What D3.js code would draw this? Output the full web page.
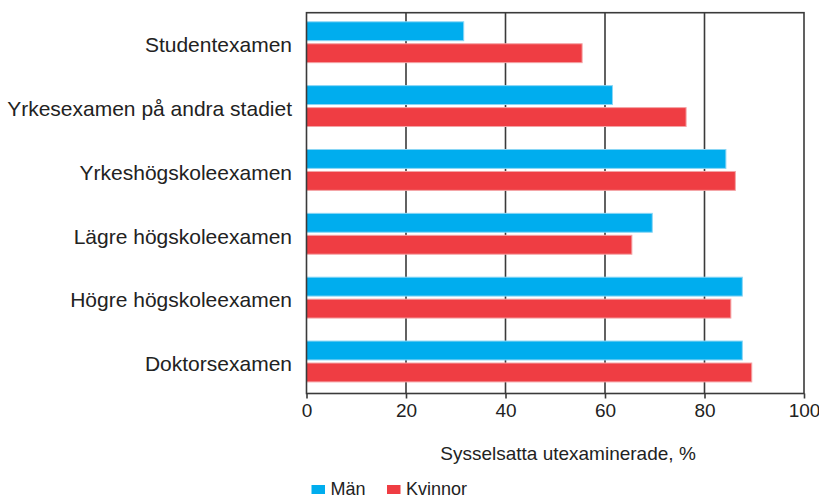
<!DOCTYPE html>
<html>
<head>
<meta charset="utf-8">
<script src="https://cdn.jsdelivr.net/npm/d3@7"></script>
<style>
  body { margin: 0; background: #fff; }
  svg { display: block; font-family: "Liberation Sans", Arial, sans-serif; }
</style>
</head>
<body>
<svg id="vis" width="819" height="499"></svg>
<script>
const svg = d3.select("#vis");

// data
const categories = ["Studentexamen", "Yrkesexamen på andra stadiet", "Yrkeshögskoleexamen",
  "Lägre högskoleexamen", "Högre högskoleexamen", "Doktorsexamen"];
const series = ["Män", "Kvinnor"];
const men = [31.6, 61.5, 84.3, 69.5, 87.6, 87.6];
const women = [55.4, 76.3, 86.2, 65.4, 85.3, 89.5];
const xTicks = [0, 20, 40, 60, 80, 100];
const axisTitle = "Sysselsatta utexaminerade, %";

const COLORS = { "Män": "#00adee", "Kvinnor": "#ef3d43" };
const EDGES = { "Män": "#8ad6f5", "Kvinnor": "#f4a3a5" };

const PLOT = { left: 306.5, right: 804, top: 12.7, bottom: 393.5 };

const x = d3.scaleLinear().domain([0, 100]).range([PLOT.left, PLOT.right]);
const y = d3.scaleBand().domain(categories).range([10.3, 393.4]).paddingInner(0.36).paddingOuter(0.18);
const y1 = d3.scaleBand().domain(series).range([0, y.bandwidth()]).paddingInner(0.14);

const rows = categories.map((c, i) => ({ cat: c, vals: [
  { key: "Män", v: men[i] }, { key: "Kvinnor", v: women[i] }] }));

// grid lines behind the bars
svg.append("g").selectAll("line").data(xTicks.slice(1, -1)).join("line")
  .attr("x1", d => x(d)).attr("x2", d => x(d))
  .attr("y1", PLOT.top).attr("y2", PLOT.bottom)
  .attr("stroke", "#3a3a3a").attr("stroke-width", 1.6);

// bars
const groups = svg.append("g").selectAll("g").data(rows).join("g")
  .attr("transform", d => `translate(0,${y(d.cat)})`);
groups.selectAll("rect").data(d => d.vals).join("rect")
  .attr("x", x(0))
  .attr("y", d => y1(d.key))
  .attr("width", d => x(d.v) - x(0))
  .attr("height", y1.bandwidth())
  .attr("fill", d => COLORS[d.key])
  .attr("stroke", d => EDGES[d.key])
  .attr("stroke-width", 1);

// frame
svg.append("rect")
  .attr("x", PLOT.left).attr("y", PLOT.top)
  .attr("width", PLOT.right - PLOT.left).attr("height", PLOT.bottom - PLOT.top)
  .attr("fill", "none").attr("stroke", "#3a3a3a").attr("stroke-width", 1.6);

// x axis
const xAxis = svg.append("g")
  .attr("transform", `translate(0,${PLOT.bottom})`)
  .call(d3.axisBottom(x).tickValues(xTicks).tickSize(5).tickPadding(5).tickSizeOuter(0));
xAxis.select(".domain").remove();
xAxis.selectAll(".tick line").attr("stroke", "#3a3a3a").attr("stroke-width", 1.6);
xAxis.selectAll(".tick text")
  .attr("font-family", "Liberation Sans, Arial, sans-serif")
  .attr("font-size", 19).attr("fill", "#222");

// category labels
svg.append("g").selectAll("text").data(categories).join("text")
  .attr("x", 292)
  .attr("y", d => y(d) + y.bandwidth() / 2 + 9.8)
  .attr("text-anchor", "end")
  .attr("font-size", 21)
  .attr("fill", "#222")
  .text(d => d);

// axis title
svg.append("text")
  .attr("x", 568).attr("y", 460)
  .attr("text-anchor", "middle")
  .attr("font-size", 19).attr("fill", "#222")
  .text(axisTitle);

// legend (sits at the very bottom edge, as in the original)
const legend = svg.append("g").selectAll("g").data(series).join("g")
  .attr("transform", (d, i) => `translate(${i === 0 ? 311.5 : 387},0)`);
legend.append("rect")
  .attr("x", 0).attr("y", 485).attr("width", 13.5).attr("height", 9)
  .attr("fill", d => COLORS[d]);
legend.append("text")
  .attr("x", 19).attr("y", 494.5)
  .attr("font-size", 18).attr("fill", "#222")
  .text(d => d);
</script>
</body>
</html>
